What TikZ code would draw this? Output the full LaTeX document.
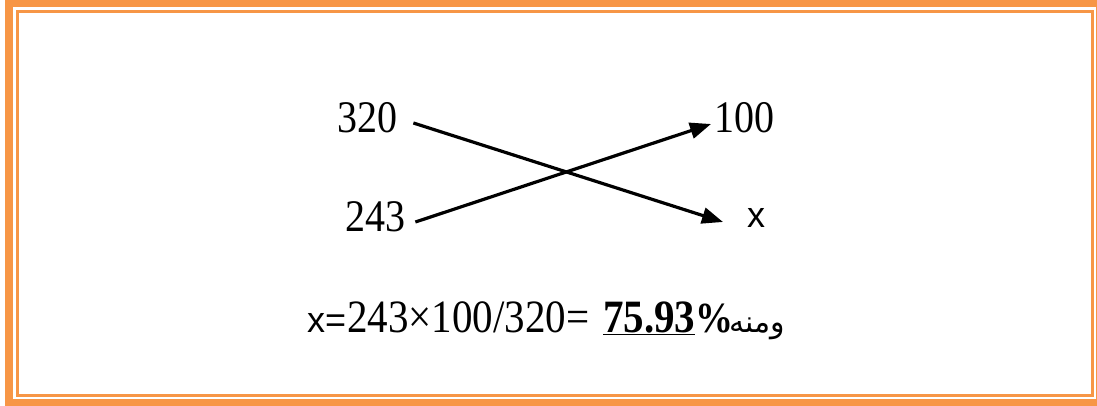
\documentclass[tikz,border=0pt]{standalone}
\usepackage{fontspec}
\usepackage{graphicx}
\setmainfont{Liberation Serif}
\newfontfamily\arialfont{Liberation Sans}
\newfontfamily\arabicfont[Script=Arabic]{DejaVu Sans}
\TeXXeTstate=1
\usetikzlibrary{arrows.meta,calc}
\definecolor{frameorange}{HTML}{F79646}
\newcommand{\tallbox}[1]{\scalebox{1}[1.13]{#1}}
\tikzset{
  numtext/.style={inner sep=0pt, anchor=base west, font=\fontsize{40}{40}\selectfont},
  vartext/.style={inner sep=0pt, anchor=base west, font=\arialfont\fontsize{36}{36}\selectfont},
  crossarrow/.style={line width=3.2pt, -{Triangle[length=21pt,width=16pt]}},
  outerframe/.style={draw=frameorange, line width=7.5pt},
  innerframe/.style={draw=frameorange, line width=3pt}
}
\begin{document}
\begin{tikzpicture}[x=1pt,y=-1pt]
\useasboundingbox (0,0) rectangle (1097,406);
% frame
\draw[outerframe] (9,3.5) rectangle (1099.5,403);
\draw[innerframe] (17.2,11.5) rectangle (1092,395.5);
% numbers
\node[numtext] (n320) at (337,133) {\tallbox{320}};
\node[numtext] (n243) at (345,231) {\tallbox{243}};
\node[numtext] (n100) at (714,133) {\tallbox{100}};
\node[vartext] (nx) at (747,227) {x};
% arrows
\draw[crossarrow] ($(n320.base east)+(16,-10)$) -- ($(nx.base west)+(-24,-5)$);
\draw[crossarrow] ($(n243.base east)+(10,-9)$) -- ($(n100.base west)+(-3,-9)$);
% formula
\node[vartext] (fx) at (307,332) {x=};
\node[numtext, font=\fontsize{41}{41}\selectfont] (fcalc) at (347,332) {\tallbox{243×100/320=}};
\node[numtext, font=\bfseries\fontsize{41}{41}\selectfont] (fres) at (603,332) {\tallbox{\underline{75.93}}};
\node[numtext, font=\bfseries\fontsize{38}{38}\selectfont] (fpct) at (695,332) {\tallbox{\%}};
\node[inner sep=0pt, anchor=base west, font=\arabicfont\fontsize{30}{30}\selectfont] (farab) at (729,332) {\beginR ومنه\endR};
\end{tikzpicture}
\end{document}
